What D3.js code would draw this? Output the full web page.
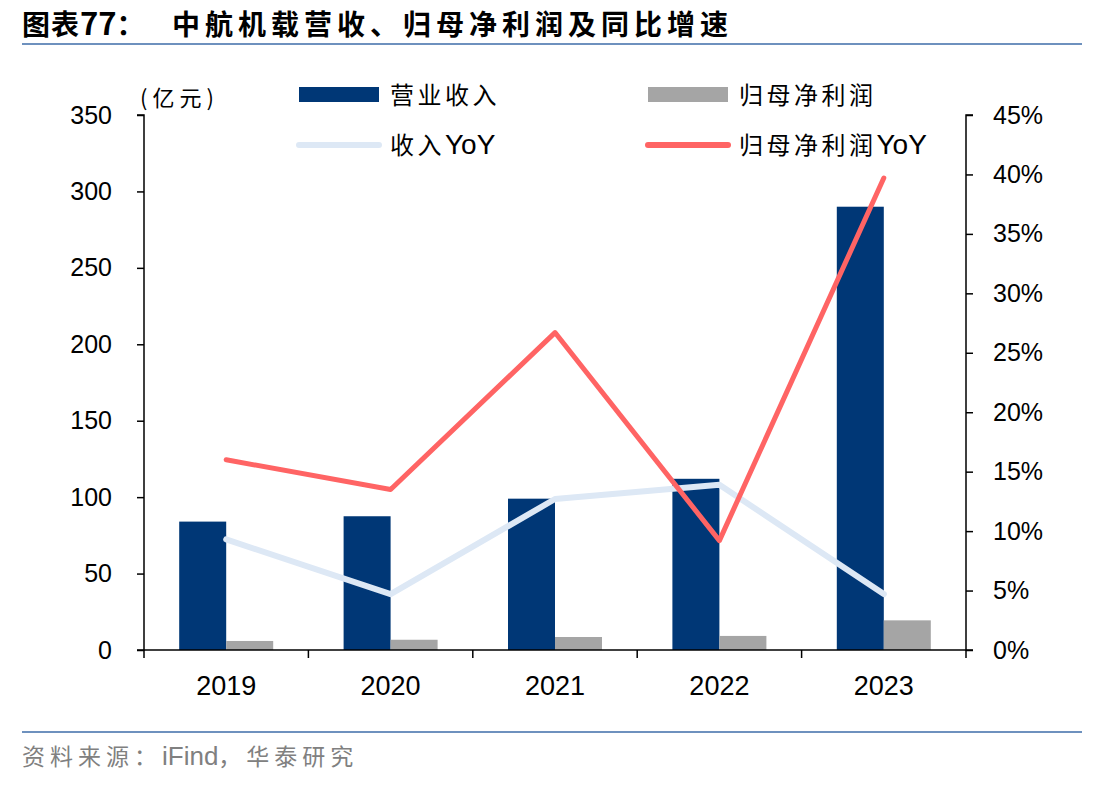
<!DOCTYPE html>
<html>
<head>
<meta charset="utf-8">
<script src="https://cdn.jsdelivr.net/npm/d3@7"></script>
<style>
  body { margin: 0; background: #fff; }
  text { font-family: "Liberation Sans", Arial, "Noto Sans CJK SC", sans-serif; }
  .cjk { font-family: "Noto Sans CJK SC", sans-serif; }
</style>
</head>
<body>
<div id="chart-area"></div>
<script>
// data
var years = ["2019", "2020", "2021", "2022", "2023"];
var revenue = [84, 87.5, 99, 112, 290];      // 营业收入 (亿元)
var netProfit = [5.9, 6.7, 8.5, 9.2, 19.4];   // 归母净利润 (亿元)
var revenueYoY = [9.3, 4.7, 12.7, 13.9, 4.7]; // 收入YoY (%)
var profitYoY = [16.0, 13.5, 26.7, 9.2, 39.7]; // 归母净利润YoY (%)
var leftTicks = [0, 50, 100, 150, 200, 250, 300, 350];
var rightTicks = [0, 5, 10, 15, 20, 25, 30, 35, 40, 45];

var W = 1112, H = 787;
var plot = {left: 144, right: 966, top: 115, bottom: 650};

var svg = d3.select("#chart-area")
  .append("svg")
  .attr("width", W)
  .attr("height", H);

// title
var title = svg.append("text")
  .attr("y", 35)
  .attr("font-size", "28px")
  .attr("font-weight", "bold")
  .attr("class", "cjk")
  .attr("fill", "#000");
title.append("tspan").attr("x", 22).attr("letter-spacing", 1).text("图表");
title.append("tspan").attr("font-size", "31px").text("77");
title.append("tspan").text("：");
title.append("tspan").attr("x", 172).attr("letter-spacing", 5)
  .text("中航机载营收、归母净利润及同比增速");

svg.append("line")
  .attr("x1", 22).attr("x2", 1082)
  .attr("y1", 44).attr("y2", 44)
  .attr("stroke", "#6E91BE")
  .attr("stroke-width", 2);

svg.append("line")
  .attr("x1", 22).attr("x2", 1082)
  .attr("y1", 732).attr("y2", 732)
  .attr("stroke", "#6E91BE")
  .attr("stroke-width", 2);

// source note
var src = svg.append("text")
  .attr("x", 22)
  .attr("y", 765)
  .attr("font-size", "23px")
  .attr("fill", "#808080");
src.append("tspan").attr("class", "cjk").attr("letter-spacing", 5).text("资料来源：");
src.append("tspan").attr("font-size", "26px").text("iFind");
src.append("tspan").attr("class", "cjk").attr("letter-spacing", 5).text("，华泰研究");

// scales
var x = d3.scaleBand()
  .domain(years)
  .range([plot.left, plot.right]);

var y = d3.scaleLinear()
  .domain([0, 350])
  .range([plot.bottom, plot.top]);

var y2 = d3.scaleLinear()
  .domain([0, 45])
  .range([plot.bottom, plot.top]);

var barW = 47;

// bars
svg.append("g").selectAll("rect")
  .data(revenue)
  .enter().append("rect")
  .attr("x", (d, i) => x(years[i]) + x.bandwidth() / 2 - barW)
  .attr("y", d => y(d))
  .attr("width", barW)
  .attr("height", d => y(0) - y(d))
  .attr("fill", "#003776");

svg.append("g").selectAll("rect")
  .data(netProfit)
  .enter().append("rect")
  .attr("x", (d, i) => x(years[i]) + x.bandwidth() / 2)
  .attr("y", d => y(d))
  .attr("width", barW)
  .attr("height", d => y(0) - y(d))
  .attr("fill", "#A5A5A5");

// lines
var line = d3.line()
  .x((d, i) => x(years[i]) + x.bandwidth() / 2)
  .y(d => y2(d));

svg.append("path")
  .datum(revenueYoY)
  .attr("d", line)
  .attr("fill", "none")
  .attr("stroke", "#DDE8F5")
  .attr("stroke-width", 6)
  .attr("stroke-linejoin", "round")
  .attr("stroke-linecap", "round");

svg.append("path")
  .datum(profitYoY)
  .attr("d", line)
  .attr("fill", "none")
  .attr("stroke", "#FF6464")
  .attr("stroke-width", 5)
  .attr("stroke-linejoin", "round")
  .attr("stroke-linecap", "round");

// axes
var leftAxis = d3.axisLeft(y).tickValues(leftTicks).tickSize(7).tickPadding(25);
var rightAxis = d3.axisRight(y2).tickValues(rightTicks).tickSize(7)
  .tickPadding(20).tickFormat(d => d + "%");
var bottomAxis = d3.axisBottom(x).tickSize(0).tickPadding(26);

function styleAxis(g) {
  g.select(".domain").attr("stroke", "#000").attr("stroke-width", 1.5);
  g.selectAll(".tick line").attr("stroke", "#000").attr("stroke-width", 1.5);
  g.selectAll("text")
    .attr("font-size", "25px")
    .attr("fill", "#000")
    .attr("font-family", "'Liberation Sans', Arial, sans-serif");
}

svg.append("g")
  .attr("transform", "translate(" + plot.left + ",0)")
  .call(leftAxis)
  .call(styleAxis)
  .call(g => g.select(".domain").attr("d", "M-7," + plot.top + "H0V" + plot.bottom + "H-7"));

svg.append("g")
  .attr("transform", "translate(" + plot.right + ",0)")
  .call(rightAxis)
  .call(styleAxis)
  .call(g => g.select(".domain").attr("d", "M7," + plot.top + "H0V" + plot.bottom + "H7"));

var bx = svg.append("g")
  .attr("transform", "translate(0," + plot.bottom + ")")
  .call(bottomAxis)
  .call(styleAxis);
bx.select(".domain").attr("d", "M" + plot.left + ",0H" + plot.right);
bx.selectAll("text").attr("font-size", "27px");

// category separator ticks on the x axis
svg.append("g").selectAll("line")
  .data(years.concat(["end"]))
  .enter().append("line")
  .attr("x1", (d, i) => i < years.length ? x(d) : x.range()[1])
  .attr("x2", (d, i) => i < years.length ? x(d) : x.range()[1])
  .attr("y1", plot.bottom)
  .attr("y2", plot.bottom + 8)
  .attr("stroke", "#000")
  .attr("stroke-width", 1.5);

// unit label
svg.append("text")
  .attr("x", 140)
  .attr("y", 106)
  .attr("font-size", "22px")
  .attr("letter-spacing", 5)
  .attr("class", "cjk")
  .text("(亿元)");

// legend
var legend = svg.append("g");
var legendRows = [
  {label: "营业收入", suffix: "", type: "rect", color: "#003776", x: 299, y: 95},
  {label: "归母净利润", suffix: "", type: "rect", color: "#A5A5A5", x: 648, y: 95},
  {label: "收入", suffix: "YoY", type: "line", color: "#DDE8F5", x: 299, y: 145},
  {label: "归母净利润", suffix: "YoY", type: "line", color: "#FF6464", x: 648, y: 145}
];

legendRows.forEach(function(r) {
  if (r.type === "rect") {
    legend.append("rect")
      .attr("x", r.x).attr("y", r.y - 8)
      .attr("width", 80).attr("height", 15)
      .attr("fill", r.color);
  } else {
    legend.append("line")
      .attr("x1", r.x).attr("x2", r.x + 80)
      .attr("y1", r.y).attr("y2", r.y)
      .attr("stroke", r.color)
      .attr("stroke-width", 6)
      .attr("stroke-linecap", "round");
  }
  var t = legend.append("text")
    .attr("x", r.x + 91)
    .attr("y", r.y + 9);
  t.append("tspan")
    .attr("class", "cjk")
    .attr("font-size", "24px")
    .attr("letter-spacing", 3.5)
    .text(r.label);
  t.append("tspan")
    .attr("font-size", "28px")
    .text(r.suffix);
});
</script>
</body>
</html>
